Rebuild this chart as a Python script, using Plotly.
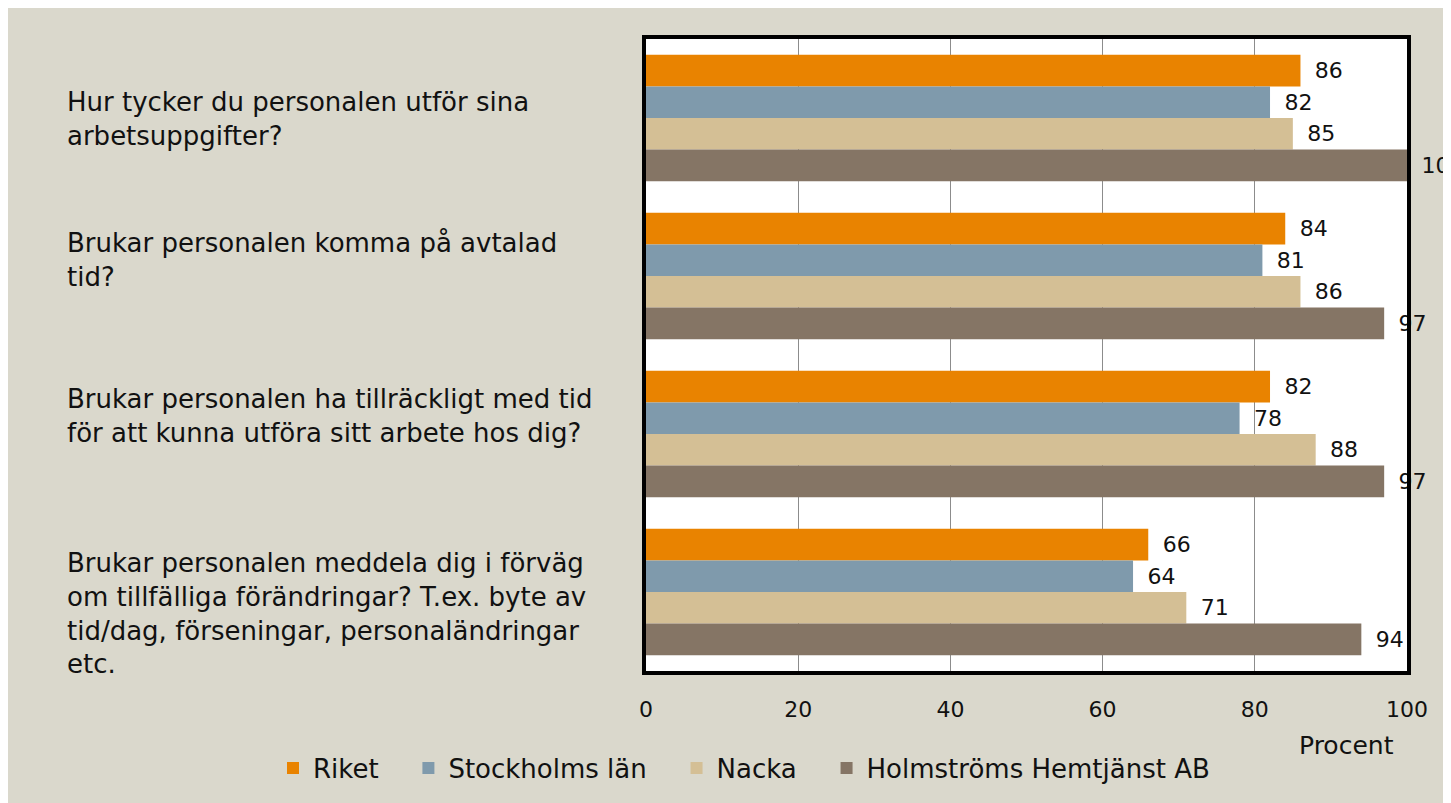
import plotly.graph_objects as go

questions = [
    "Hur tycker du personalen utför sina<br>arbetsuppgifter?",
    "Brukar personalen komma på avtalad<br>tid?",
    "Brukar personalen ha tillräckligt med tid<br>för att kunna utföra sitt arbete hos dig?",
    "Brukar personalen meddela dig i förväg<br>om tillfälliga förändringar? T.ex. byte av<br>tid/dag, förseningar, personaländringar<br>etc.",
]
series_names = ["Riket", "Stockholms län", "Nacka", "Holmströms Hemtjänst AB"]
riket = [86, 84, 82, 66]
stockholm = [82, 81, 78, 64]
nacka = [85, 86, 88, 71]
holmstrom = [100, 97, 97, 94]
x_ticks = [0, 20, 40, 60, 80, 100]

colors = ["#E98300", "#7F9AAC", "#D4BF95", "#857565"]
label_yshift = [-1, 16, 18, -21]

FONT = "DejaVu Sans"
TXT = "#111111"
LBL = 26
NUM = 22
LEG_PAD = "\u00a0\u00a0\u00a0"

# page has an 8px body margin; plot area target in page px: x 646..1407, y 39..671
OFF = 8
W, H = 1451, 803
PW, PH = 761, 632

def px(xpage):
    return (xpage - 646) / PW

def py(ypage):
    return (671 - ypage) / PH

fig = go.Figure()
for i, (name, vals, col) in enumerate(zip(series_names, [riket, stockholm, nacka, holmstrom], colors)):
    fig.add_trace(go.Bar(
        y=questions, x=vals, name=name + (LEG_PAD if i < len(series_names) - 1 else ""),
        orientation="h",
        marker=dict(color=col, line=dict(width=0)),
        text=vals, texttemplate="\u00a0\u2009%{x}", textposition="outside",
        textfont=dict(family=FONT, size=NUM, color=TXT),
        cliponaxis=False, constraintext="none",
    ))

for q, ys in zip(questions, label_yshift):
    fig.add_annotation(x=px(65), xref="paper", y=q, yref="y",
                       text=q, showarrow=False, xanchor="left", yanchor="middle",
                       align="left", yshift=ys,
                       font=dict(family=FONT, size=LBL, color=TXT))

fig.add_annotation(x=px(1396), xref="paper", y=py(745), yref="paper",
                   text="Procent", showarrow=False, xanchor="right", yanchor="middle",
                   font=dict(family=FONT, size=25, color=TXT))

fig.update_layout(
    width=W, height=H,
    margin=dict(l=646 - OFF, r=W - (1407 - OFF), t=39 - OFF, b=H - (671 - OFF),
                autoexpand=False),
    paper_bgcolor="#DAD8CC", plot_bgcolor="white",
    barmode="group", bargap=0.2, bargroupgap=0,
    font=dict(family=FONT, size=LBL, color=TXT),
    showlegend=True,
    legend=dict(orientation="h", x=px(273), xanchor="left",
                y=py(768), yanchor="middle", bgcolor="rgba(0,0,0,0)",
                font=dict(family=FONT, size=26, color=TXT),
                itemwidth=30, traceorder="normal"),
    xaxis=dict(range=[0, 100], tickvals=x_ticks, showgrid=True, gridcolor="#8C8C8C",
               gridwidth=1, zeroline=False, showline=True, linecolor="black",
               linewidth=4, mirror=True, ticks="", ticklabelstandoff=16,
               tickfont=dict(family=FONT, size=NUM, color=TXT)),
    yaxis=dict(autorange="reversed", showticklabels=False, showgrid=False,
               showline=True, linecolor="black", linewidth=4, mirror=True, ticks=""),
)

fig.write_html("out.html")
